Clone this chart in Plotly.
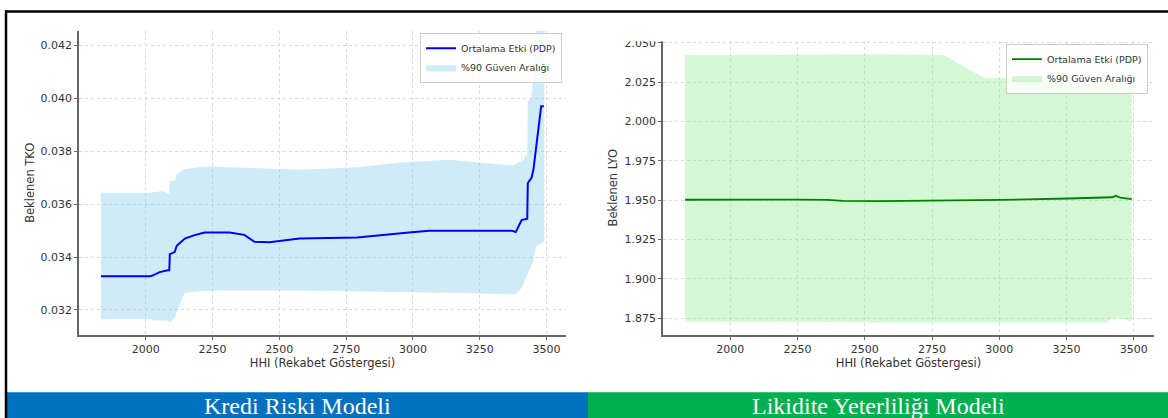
import plotly.graph_objects as go

W, H = 1168, 418

# --- Kredi riski modeli: kısmi bağımlılık (PDP) ve %90 güven aralığı ---
kr_x = [1832, 2015, 2025, 2034, 2052, 2082, 2088, 2090, 2108, 2116, 2146, 2180,
        2220, 2313, 2369, 2407, 2463, 2575, 2791, 2985, 3060, 3369, 3385, 3407,
        3421, 3428, 3430, 3444, 3451, 3459, 3470, 3480, 3490]
kr_pdp = [0.03327, 0.03327, 0.03330, 0.03335, 0.03343, 0.03350, 0.03350, 0.03411,
          0.03419, 0.03443, 0.03470, 0.03482, 0.03493, 0.03493, 0.03484, 0.03458,
          0.03456, 0.03470, 0.03474, 0.03493, 0.03500, 0.03500, 0.03495, 0.03540,
          0.03545, 0.03545, 0.03680, 0.03700, 0.03730, 0.03800, 0.03900, 0.03970,
          0.03970]
kr_ust_x = [1832, 2015, 2052, 2063, 2082, 2088, 2090, 2108, 2116, 2146, 2201, 2239,
            2575, 2791, 2948, 3134, 3246, 3377, 3395, 3405, 3407, 3409, 3422, 3428,
            3430, 3444, 3451, 3459, 3470, 3492]
kr_ust = [0.03643, 0.03643, 0.03648, 0.03650, 0.03640, 0.03640, 0.03689, 0.03689,
          0.03714, 0.03733, 0.03740, 0.03743, 0.03730, 0.03740, 0.03758, 0.03768,
          0.03758, 0.03746, 0.03760, 0.03760, 0.03810, 0.03760, 0.03784, 0.03784,
          0.03990, 0.04000, 0.04080, 0.04250, 0.04300, 0.04350]
kr_alt_x = [1832, 2015, 2034, 2082, 2090, 2108, 2127, 2146, 2201, 2276, 2575, 3134,
            3384, 3407, 3422, 3433, 3451, 3459, 3489, 3492]
kr_alt = [0.03165, 0.03165, 0.03160, 0.03160, 0.03153, 0.03171, 0.03222, 0.03265,
          0.03271, 0.03274, 0.03274, 0.03265, 0.03259, 0.03284, 0.03321, 0.03346,
          0.03384, 0.03440, 0.03458, 0.03458]

# --- Likidite yeterliliği modeli ---
ly_x = [1832, 2075, 2250, 2362, 2420, 2560, 2750, 3007, 3257, 3400, 3420, 3433,
        3450, 3492]
ly_pdp = [1.9502, 1.9505, 1.9503, 1.9501, 1.9495, 1.9494, 1.9495, 1.9501, 1.9510,
          1.9515, 1.9518, 1.9527, 1.9515, 1.9506]
ly_ust_x = [1832, 2362, 2560, 2795, 2944, 3492]
ly_ust = [2.0420, 2.0423, 2.0426, 2.0420, 2.0275, 2.0275]
ly_alt_x = [1832, 2300, 2600, 3000, 3400, 3415, 3440, 3470, 3480, 3492]
ly_alt = [1.8728, 1.8726, 1.8722, 1.8721, 1.8722, 1.8745, 1.8750, 1.8745, 1.8733,
          1.8733]

x_ticks = [2000, 2250, 2500, 2750, 3000, 3250, 3500]
kr_y_ticks = [0.032, 0.034, 0.036, 0.038, 0.040, 0.042]
ly_y_ticks = [1.875, 1.900, 1.925, 1.950, 1.975, 2.000, 2.025, 2.050]

legend_labels = ["Ortalama Etki (PDP)", "%90 Güven Aralığı"]
captions = ["Kredi Riski Modeli", "Likidite Yeterliliği Modeli"]
x_title = "HHI (Rekabet Göstergesi)"


def px(x):
    return x / W


def py(y):
    return 1 - y / H


fig = go.Figure()


def add_panel(xa, ya, bx_u, bu, bx_l, bl, lx, ly, fillcolor, linecolor, lw, legend):
    # güven bandı: üst sınır soldan sağa, alt sınır sağdan sola
    fig.add_trace(go.Scatter(
        x=bx_u + bx_l[::-1], y=bu + bl[::-1], fill="toself", mode="lines",
        line=dict(width=0), fillcolor=fillcolor, name=legend_labels[1],
        xaxis=xa, yaxis=ya, legend=legend, legendrank=2, hoverinfo="skip"))
    fig.add_trace(go.Scatter(
        x=lx, y=ly, mode="lines", line=dict(color=linecolor, width=lw),
        name=legend_labels[0], xaxis=xa, yaxis=ya, legend=legend, legendrank=1))


add_panel("x", "y", kr_ust_x, kr_ust, kr_alt_x, kr_alt, kr_x, kr_pdp,
          "rgba(135,206,235,0.4)", "#0000ff", 2, "legend")
add_panel("x2", "y2", ly_ust_x, ly_ust, ly_alt_x, ly_alt, ly_x, ly_pdp,
          "rgba(144,238,144,0.4)", "#008000", 1.8, "legend2")

tick_font = dict(family="DejaVu Sans", size=11, color="#333333")
title_font = dict(family="DejaVu Sans", size=11.5, color="#333333")
axis_common = dict(
    showline=True, linecolor="#666666", linewidth=1.6, ticks="outside",
    ticklen=3, tickcolor="#666666", tickwidth=1, showgrid=True,
    gridcolor="#d8d8d8", griddash="dot", gridwidth=1, zeroline=False,
    tickfont=tick_font, mirror=False)

legend_style = dict(
    xanchor="right", yanchor="top", bgcolor="rgba(255,255,255,0.8)",
    bordercolor="#cccccc", borderwidth=1, tracegroupgap=0,
    font=dict(family="DejaVu Sans", size=9.5, color="#333333"))

fig.update_layout(
    width=W, height=H, margin=dict(l=0, r=0, t=0, b=0),
    paper_bgcolor="white", plot_bgcolor="white", showlegend=True,
    xaxis=dict(domain=[px(79), px(566)], range=[1750, 3573], tickvals=x_ticks,
               anchor="y", title=dict(text=x_title, font=title_font, standoff=3),
               **axis_common),
    yaxis=dict(domain=[py(334), py(27)], range=[0.03106, 0.04256],
               tickvals=kr_y_ticks, tickformat=".3f", anchor="x",
               title=dict(text="Beklenen TKO", font=title_font, standoff=3),
               **axis_common),
    xaxis2=dict(domain=[px(663), px(1154)], range=[1750, 3575], tickvals=x_ticks,
                anchor="y2", title=dict(text=x_title, font=title_font, standoff=3),
                **axis_common),
    yaxis2=dict(domain=[py(334), py(37)], range=[1.8644, 2.0513],
                tickvals=ly_y_ticks, tickformat=".3f", anchor="x2",
                title=dict(text="Beklenen LYO", font=title_font, standoff=4),
                **axis_common),
    legend=dict(x=px(562), y=py(29), **legend_style),
    legend2=dict(x=px(1148), y=py(40), **legend_style),
)

shapes = [
    # sağ panelin üst kısmı kırpılmış
    dict(type="rect", xref="paper", yref="paper", x0=px(592), x1=1,
         y0=py(37.5), y1=py(9), fillcolor="white", line=dict(width=0),
         layer="above"),
    # başlık şeritleri
    dict(type="rect", xref="paper", yref="paper", x0=px(7), x1=px(588),
         y0=0, y1=py(392), fillcolor="#0070C0", line=dict(width=0),
         layer="above"),
    dict(type="rect", xref="paper", yref="paper", x0=px(588), x1=1,
         y0=0, y1=py(392), fillcolor="#00B050", line=dict(width=0),
         layer="above"),
    # tablo kenarlıkları
    dict(type="line", xref="paper", yref="paper", x0=px(5), x1=1,
         y0=py(7.5), y1=py(7.5), line=dict(color="black", width=2.5),
         layer="above"),
    dict(type="line", xref="paper", yref="paper", x0=px(6), x1=px(6),
         y0=0, y1=py(6.5), line=dict(color="black", width=2.5),
         layer="above"),
]
fig.update_layout(shapes=shapes)

for cx, text in zip([297.5, 878], captions):
    fig.add_annotation(x=px(cx), y=py(405.5), xref="paper", yref="paper",
                       text=text, showarrow=False, xanchor="center",
                       yanchor="middle",
                       font=dict(family="Liberation Serif", size=24,
                                 color="white"))

fig.write_html("out.html")
